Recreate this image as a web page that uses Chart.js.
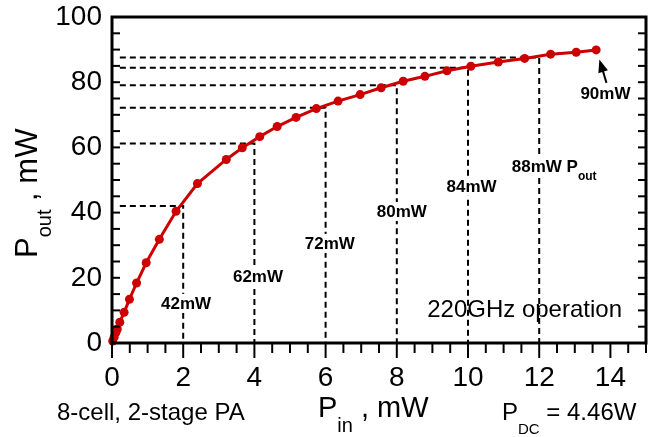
<!DOCTYPE html>
<html>
<head>
<meta charset="utf-8">
<script src="https://cdn.jsdelivr.net/npm/chart.js@4.4.1/dist/chart.umd.min.js"></script>
<style>
  html, body { margin: 0; padding: 0; background: #fff; }
</style>
</head>
<body>
<canvas id="grafico" width="671" height="437"></canvas>
<script>
// Pin (mW) vs Pout (mW)
const pinValues = [0.02, 0.06, 0.11, 0.15, 0.22, 0.34, 0.49, 0.69, 0.96, 1.33, 1.80, 2.40, 3.21, 3.66, 4.15,
    4.64, 5.17, 5.74, 6.35, 6.97, 7.56, 8.18, 8.79, 9.41, 10.08, 10.85, 11.59, 12.32, 13.04, 13.60];
const poutValues = [0.6, 1.8, 3.2, 4.3, 6.4, 9.4, 13.4, 18.4, 24.6, 31.8, 40.4, 48.9, 56.3, 59.9, 63.3,
    66.4, 69.2, 71.9, 74.2, 76.2, 78.3, 80.3, 81.8, 83.5, 84.9, 86.2, 87.3, 88.6, 89.2, 89.9];

// dashed guides: Pin value and the Pout read at it
const guidePin = [2, 4, 6, 8, 10, 12];
const guidePout = [42, 61.2, 72.2, 79.1, 84.4, 87.6];
const guideLabels = ['42mW', '62mW', '72mW', '80mW', '84mW', '88mW P'];

const xTicks = [0, 2, 4, 6, 8, 10, 12, 14];
const yTicks = [0, 20, 40, 60, 80, 100];

const FONT = "'Liberation Sans', Arial, Helvetica, sans-serif";
const RED = '#cc0000';

// where each guide label sits (data units)
const labelPos = [
    { x: 2.08, y: 12.3 },
    { x: 4.10, y: 20.6 },
    { x: 6.12, y: 30.7 },
    { x: 8.14, y: 40.5 },
    { x: 10.10, y: 48.2 },
    { x: 12.42, y: 54.4 }
];

function buildDatasets() {
    const sets = [{
        data: pinValues.map((v, i) => ({ x: v, y: poutValues[i] })),
        borderColor: RED,
        backgroundColor: RED,
        borderWidth: 3,
        pointRadius: 4.5,
        pointBorderWidth: 0,
        pointBackgroundColor: RED,
        tension: 0,
        clip: false
    }];
    guidePin.forEach((p, i) => {
        sets.push({
            data: [{ x: 0.22, y: guidePout[i] }, { x: p, y: guidePout[i] }, { x: p, y: 0 }],
            borderColor: '#000',
            borderWidth: 2,
            borderDash: [6, 4],
            pointRadius: 0,
            tension: 0
        });
    });
    return sets;
}

function line(ctx, x1, y1, x2, y2) {
    ctx.beginPath();
    ctx.moveTo(x1, y1);
    ctx.lineTo(x2, y2);
    ctx.stroke();
}

// draws text pieces one after another, subscripts get a size and a drop
function drawRich(ctx, parts, x, y, weight) {
    let cx = x;
    parts.forEach(p => {
        ctx.font = `${weight || 'normal'} ${p.size}px ${FONT}`;
        ctx.fillText(p.t, cx, y + (p.dy || 0));
        cx += ctx.measureText(p.t).width;
    });
    return cx - x;
}

function richWidth(ctx, parts, weight) {
    let w = 0;
    parts.forEach(p => {
        ctx.font = `${weight || 'normal'} ${p.size}px ${FONT}`;
        w += ctx.measureText(p.t).width;
    });
    return w;
}

const framePlugin = {
    id: 'framePlugin',
    afterDraw(chart) {
        const { ctx, chartArea: a, scales } = chart;
        const sx = scales.x, sy = scales.y;
        ctx.save();
        ctx.fillStyle = '#000';
        ctx.strokeStyle = '#000';

        // guide labels with white boxes over the dashes
        ctx.textBaseline = 'alphabetic';
        guideLabels.forEach((txt, i) => {
            const parts = [{ t: txt, size: 17 }];
            if (i === guideLabels.length - 1) parts.push({ t: 'out', size: 12, dy: 8 });
            const w = richWidth(ctx, parts, 'bold');
            const cx = sx.getPixelForValue(labelPos[i].x);
            const cy = sy.getPixelForValue(labelPos[i].y);
            ctx.fillStyle = '#fff';
            ctx.fillRect(cx - w / 2 - 3, cy - 9, w + 6, 19);
            ctx.fillStyle = '#000';
            drawRich(ctx, parts, cx - w / 2, cy + 6, 'bold');
        });

        // 90mW note and its arrow
        ctx.font = `bold 17px ${FONT}`;
        ctx.textAlign = 'center';
        ctx.fillText('90mW', sx.getPixelForValue(13.86), sy.getPixelForValue(76.7) + 6);
        const ax1 = sx.getPixelForValue(13.89), ay1 = sy.getPixelForValue(79.8);
        const ax2 = sx.getPixelForValue(13.69), ay2 = sy.getPixelForValue(87.0);
        ctx.lineWidth = 2;
        const ang = Math.atan2(ay2 - ay1, ax2 - ax1);
        line(ctx, ax1, ay1, ax2 - 8 * Math.cos(ang), ay2 - 8 * Math.sin(ang));
        ctx.beginPath();
        ctx.moveTo(ax2, ay2);
        ctx.lineTo(ax2 - 13 * Math.cos(ang) + 5 * Math.sin(ang), ay2 - 13 * Math.sin(ang) - 5 * Math.cos(ang));
        ctx.lineTo(ax2 - 13 * Math.cos(ang) - 5 * Math.sin(ang), ay2 - 13 * Math.sin(ang) + 5 * Math.cos(ang));
        ctx.closePath();
        ctx.fill();

        ctx.font = `24px ${FONT}`;
        ctx.fillText('220GHz operation', sx.getPixelForValue(11.59), sy.getPixelForValue(7.9));
        ctx.textAlign = 'left';

        // frame and ticks
        ctx.lineWidth = 3;
        ctx.strokeRect(a.left, a.top, a.right - a.left, a.bottom - a.top);
        ctx.lineWidth = 2;
        for (let v = 5; v < 100; v += 5) {
            const py = sy.getPixelForValue(v);
            line(ctx, a.left, py, a.left + 8, py);
            line(ctx, a.right, py, a.right - 8, py);
        }
        for (let v = 0; v <= 15; v += 0.5) {
            const px = sx.getPixelForValue(v);
            line(ctx, px, a.bottom, px, a.bottom + (v % 2 === 0 ? 15 : 10));
        }

        // axis titles
        drawRich(ctx, [{ t: 'P', size: 29 }, { t: 'in', size: 20, dy: 15 }, { t: ' , mW', size: 29 }], 318, 417);
        ctx.save();
        ctx.translate(37, 258);
        ctx.rotate(-Math.PI / 2);
        drawRich(ctx, [{ t: 'P', size: 31 }, { t: 'out', size: 20, dy: 14 }, { t: ' , mW', size: 31 }], 0, 0);
        ctx.restore();

        // side notes under the axis
        ctx.font = `24px ${FONT}`;
        ctx.fillText('8-cell, 2-stage PA', 57, 420);
        drawRich(ctx, [{ t: 'P', size: 24 }, { t: 'DC', size: 15, dy: 14 }, { t: ' = 4.46W', size: 24 }], 502, 420);
        ctx.restore();
    }
};

new Chart(document.getElementById('grafico').getContext('2d'), {
    type: 'line',
    data: { datasets: buildDatasets() },
    options: {
        responsive: false,
        devicePixelRatio: 1,
        animation: false,
        layout: { padding: { left: 0, right: 25, top: 17, bottom: 0 } },
        plugins: { legend: { display: false }, tooltip: { enabled: false } },
        scales: {
            x: {
                type: 'linear',
                min: 0,
                max: 15,
                afterFit: s => { s.height = 94; s.paddingLeft = 0; s.paddingRight = 0; },
                afterBuildTicks: s => { s.ticks = xTicks.map(v => ({ value: v })); },
                grid: { display: false, drawTicks: false },
                border: { display: false },
                ticks: { color: '#000', padding: 18, font: { family: FONT, size: 28 } }
            },
            y: {
                type: 'linear',
                min: 0,
                max: 100,
                afterFit: s => { s.width = 112; s.paddingTop = 0; s.paddingBottom = 0; },
                afterBuildTicks: s => { s.ticks = yTicks.map(v => ({ value: v })); },
                grid: { display: false, drawTicks: false },
                border: { display: false },
                ticks: { color: '#000', padding: 10, font: { family: FONT, size: 28 } }
            }
        }
    },
    plugins: [framePlugin]
});
</script>
</body>
</html>
